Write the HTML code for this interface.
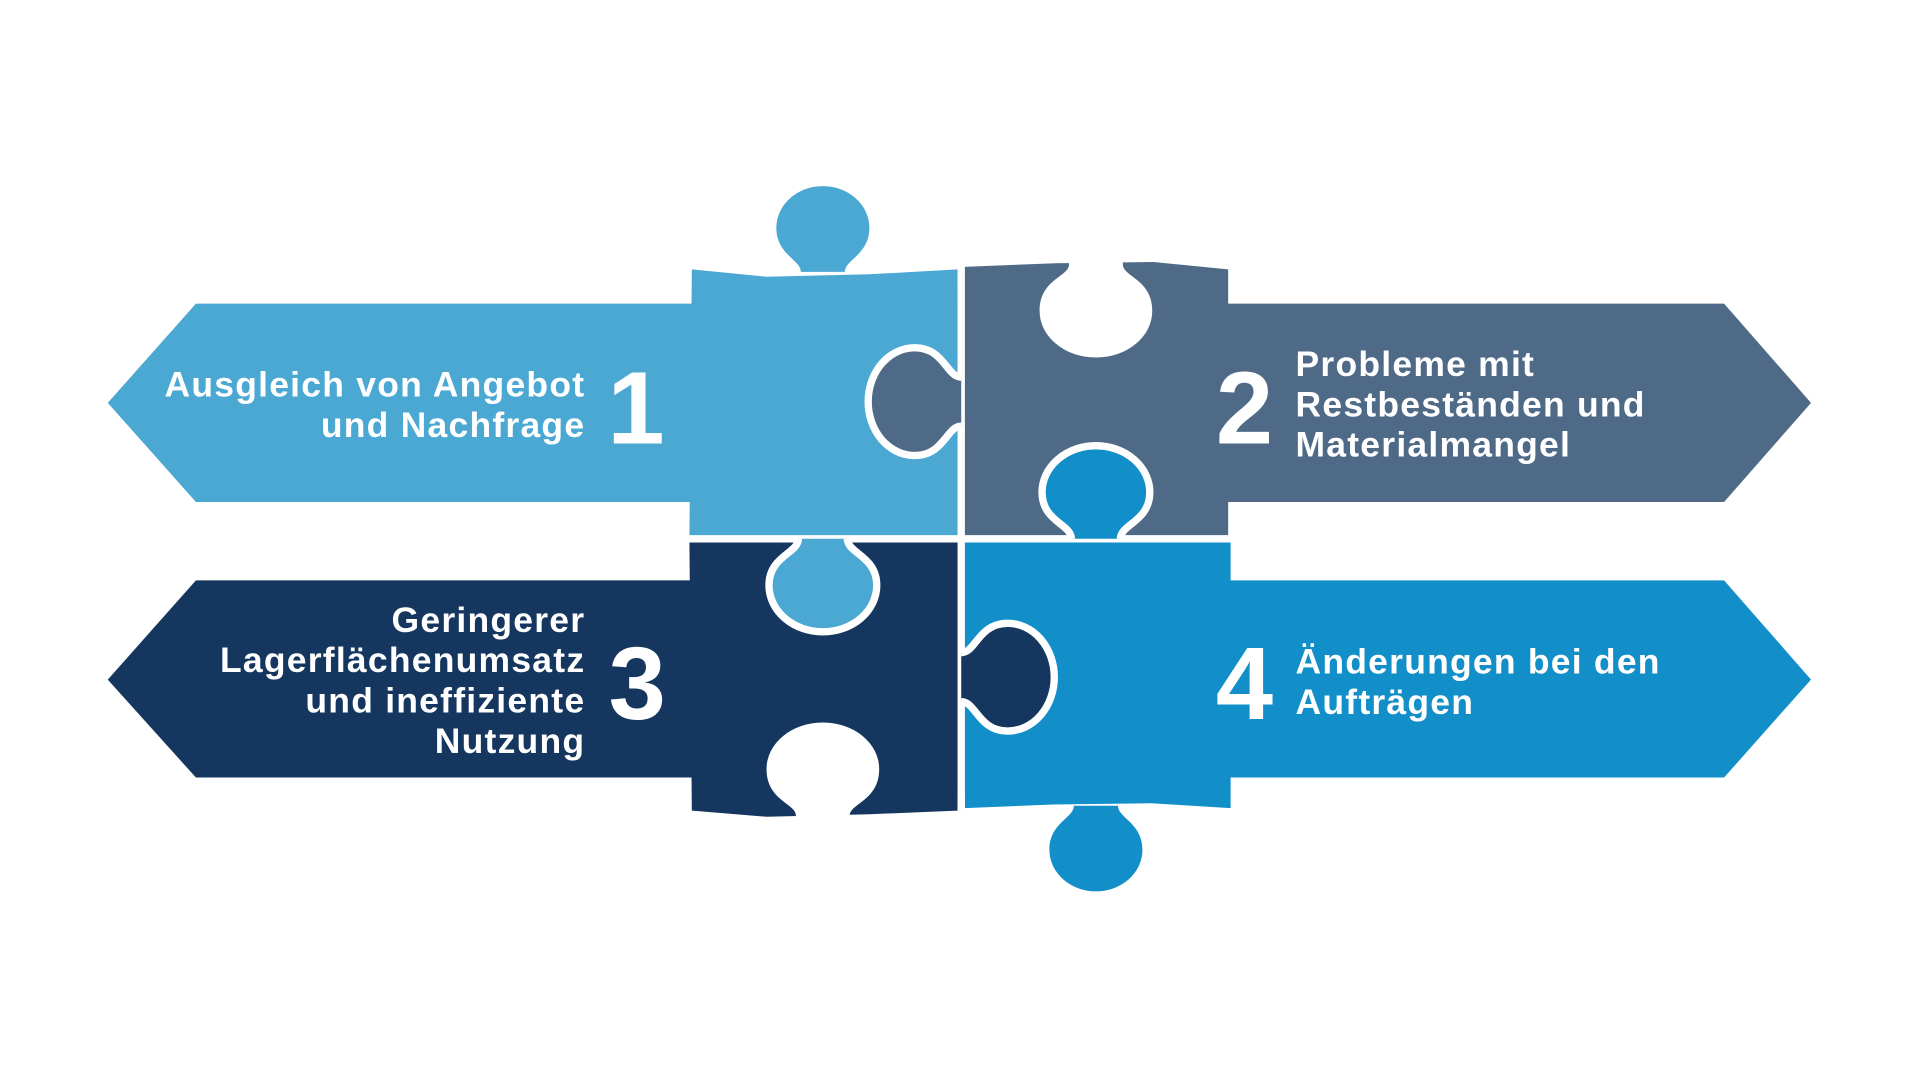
<!DOCTYPE html>
<html><head><meta charset="utf-8"><style>
html,body{margin:0;padding:0;background:#fff;width:1920px;height:1080px;overflow:hidden}
svg{display:block}
text{font-family:"Liberation Sans",sans-serif;font-weight:bold;fill:#fff}
</style></head><body>
<svg width="1920" height="1080" viewBox="0 0 1568 882" xmlns="http://www.w3.org/2000/svg">
<defs>
<path id="k" d="M-20,0 C-20,12 -44,14 -44,38 A44,38 0 1 0 44,38 C44,14 20,12 20,0"/>
<path id="ko" d="M-18,0 C-18,10 -38,14 -38,36 A38,34 0 1 0 38,36 C38,14 18,10 18,0 Z"/>
<path id="kh" d="M-22,-4 L-22,2 C-22,12 -46,14 -46,40 A46,38 0 1 0 46,40 C46,14 22,12 22,2 L22,-4 Z"/>
</defs>
<rect width="1568" height="882" fill="#fff"/>
<polygon points="88,329 160,248 600,248 600,410 160,410" fill="#4BA8D3"/>
<polygon points="960,248 1408,248 1479,329 1408,410 960,410" fill="#4F6A87"/>
<polygon points="88,555 160,474 600,474 600,635 160,635" fill="#15365E"/>
<polygon points="960,474 1408,474 1479,555 1408,635 960,635" fill="#128FC8"/>
<polygon points="565,220 626,226 710,224 782,220 785,440 563,440" fill="#4BA8D3"/>
<polygon points="785,218 862,215 942,214 1003,220 1003,440 785,440" fill="#4F6A87"/>
<polygon points="563,440 785,440 782,662 710,665 626,667 565,662" fill="#15365E"/>
<polygon points="785,440 1005,440 1005,660 940,656 860,657 788,660" fill="#128FC8"/>
<use href="#ko" transform="translate(672,222) rotate(180)" fill="#4BA8D3"/>
<use href="#ko" transform="translate(895,658)" fill="#128FC8"/>
<use href="#kh" transform="translate(895,214)" fill="#fff"/>
<use href="#kh" transform="translate(672,668) rotate(180)" fill="#fff"/>
<line x1="785" y1="214" x2="785" y2="668" stroke="#fff" stroke-width="6"/>
<line x1="560" y1="440" x2="1008" y2="440" stroke="#fff" stroke-width="6"/>
<use href="#k" transform="translate(672,440)" fill="#4BA8D3" stroke="#fff" stroke-width="6"/>
<use href="#k" transform="translate(895,440) rotate(180)" fill="#128FC8" stroke="#fff" stroke-width="6"/>
<use href="#k" transform="translate(785,328) rotate(90)" fill="#4F6A87" stroke="#fff" stroke-width="6"/>
<use href="#k" transform="translate(785,553) rotate(-90)" fill="#15365E" stroke="#fff" stroke-width="6"/>
<g font-size="29" letter-spacing="1" text-anchor="end">
<text x="478" y="324">Ausgleich von Angebot</text>
<text x="478" y="357">und Nachfrage</text>
<text x="478" y="516">Geringerer</text>
<text x="478" y="549">Lagerflächenumsatz</text>
<text x="478" y="582">und ineffiziente</text>
<text x="478" y="615">Nutzung</text>
</g>
<g font-size="29" letter-spacing="1">
<text x="1058" y="307">Probleme mit</text>
<text x="1058" y="340">Restbeständen und</text>
<text x="1058" y="373">Materialmangel</text>
<text x="1058" y="550">Änderungen bei den</text>
<text x="1058" y="583">Aufträgen</text>
</g>
<g font-size="84">
<text x="496" y="362">1</text>
<text x="993" y="362">2</text>
<text x="497" y="587">3</text>
<text x="993" y="587">4</text>
</g>
</svg>
</body></html>
